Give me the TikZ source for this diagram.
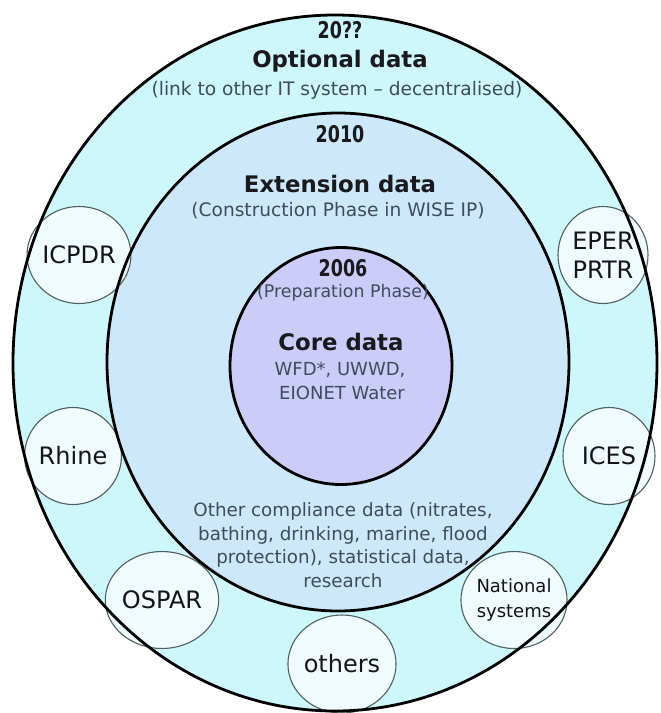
\documentclass[tikz,border=0pt]{standalone}
\usepackage{fontspec}
\usepackage{graphicx}
\setmainfont{DejaVu Sans}
\usetikzlibrary{shapes.geometric}
\definecolor{ringout}{RGB}{205,247,251}
\definecolor{ringmid}{RGB}{204,232,250}
\definecolor{ringin}{RGB}{204,204,248}
\definecolor{smallf}{RGB}{239,251,252}
\definecolor{smallb}{RGB}{80,95,95}
\definecolor{titlec}{RGB}{25,25,30}
\definecolor{subc}{RGB}{62,76,92}
\definecolor{labc}{RGB}{20,20,25}
\newcommand{\yrtext}[1]{\scalebox{0.76}[1]{\fontsize{23}{23}\selectfont\bfseries #1}}
\tikzset{
  ringline/.style={draw=black, line width=2.8pt},
  titletext/.style={font=\fontsize{22.8}{26}\selectfont\bfseries, text=titlec, inner sep=0pt},
  subtext/.style={font=\fontsize{18.6}{22}\selectfont, text=subc, inner sep=0pt},
  yeartext/.style={text=titlec, inner sep=0pt},
  bodytext/.style={font=\fontsize{18.3}{23.5}\selectfont, text=subc, inner sep=0pt, align=center},
  smallc/.style={ellipse, draw=smallb, line width=1.1pt, fill=smallf, inner sep=0pt,
    text=labc, font=\fontsize{24}{28.5}\selectfont, align=center,
    minimum width=90pt, minimum height=97pt}
}
\begin{document}
\begin{tikzpicture}[x=1pt,y=-1pt]
\useasboundingbox (0,0) rectangle (661,713);
\fill[white] (0,0) rectangle (661,713);
% ring fills
\fill[ringout] (335,363) ellipse [x radius=322, y radius=348];
\fill[ringmid] (338,362) ellipse [x radius=231, y radius=249];
\fill[ringin] (341,366) ellipse [x radius=111, y radius=118.5];
% small partner circles
\node[smallc] (icpdr) at (79,255) {ICPDR};
\node[smallc] (rhine) at (73,456) {Rhine};
\node[smallc] (eper) at (603,255) {EPER\\PRTR};
\node[smallc, minimum width=92pt] (ices) at (609,456) {ICES};
\node[smallc] (ospar) at (162,600) {OSPAR};
\node[smallc, font=\fontsize{18}{25}\selectfont] (natsys) at (514,600) {National\\systems};
\node[smallc, minimum height=98pt] (others) at (342,664) {others};
% ring outlines
\draw[ringline] (335,363) ellipse [x radius=322, y radius=348];
\draw[ringline] (338,362) ellipse [x radius=231, y radius=249];
\draw[ringline] (341,366) ellipse [x radius=111, y radius=118.5];
% outer ring texts
\node[yeartext] (y2020) at (340,30) {\yrtext{20??}};
\node[titletext] (optional) at (340,61) {Optional data};
\node[subtext] (link) at (337,90) {(link to other IT system – decentralised)};
% middle ring texts
\node[yeartext] (y2010) at (340,134) {\yrtext{2010}};
\node[titletext] (extension) at (340,184) {Extension data};
\node[subtext] (construction) at (338,211) {(Construction Phase in WISE IP)};
\node[bodytext] (other) at (343,545) {Other compliance data (nitrates,\\bathing, drinking, marine, flood\\protection), statistical data,\\research};
% inner circle texts
\node[yeartext] (y2006) at (343,268) {\yrtext{2006}};
\node[subtext, font=\fontsize{17.4}{20}\selectfont] (prep) at (343,293) {(Preparation Phase)};
\node[titletext] (core) at (341,342) {Core data};
\node[subtext, font=\fontsize{18}{22}\selectfont] (wfd) at (340,370) {WFD*, UWWD,};
\node[subtext, font=\fontsize{18}{22}\selectfont] (eionet) at (342,393) {EIONET Water};
\end{tikzpicture}
\end{document}
